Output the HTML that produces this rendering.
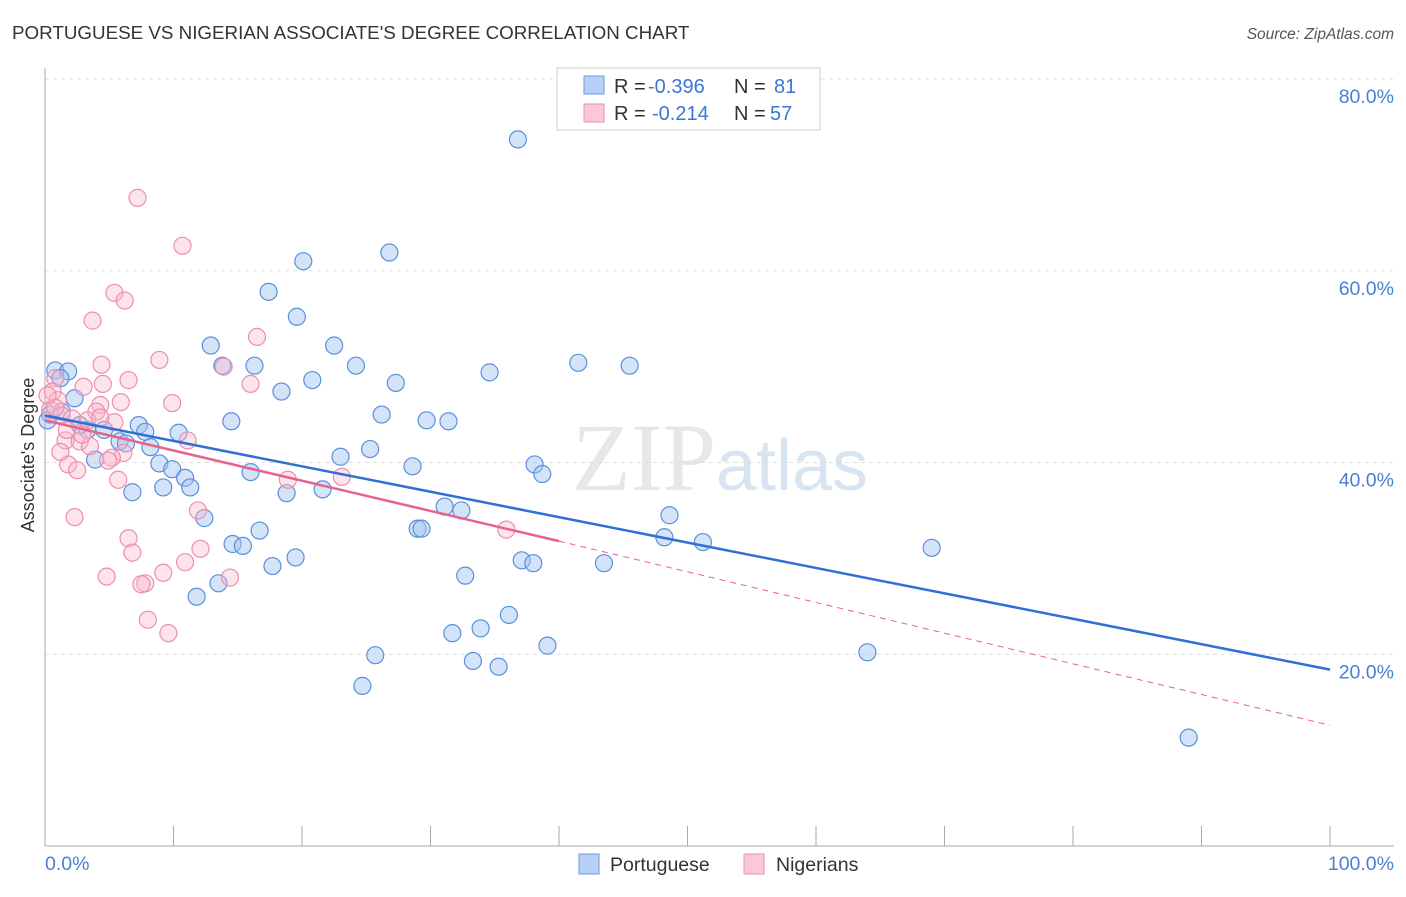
<!DOCTYPE html>
<html><head><meta charset="utf-8"><style>
body{margin:0;background:#fff;font-family:"Liberation Sans",sans-serif}
</style></head><body>
<svg width="1406" height="892" xmlns="http://www.w3.org/2000/svg" style="font-family:'Liberation Sans',sans-serif">
<text x="12" y="39" font-size="18.8" fill="#333">PORTUGUESE VS NIGERIAN ASSOCIATE'S DEGREE CORRELATION CHART</text>
<text x="1394" y="39" font-size="15.5" fill="#555" text-anchor="end" font-style="italic">Source: ZipAtlas.com</text>
<text x="720" y="490" font-size="96" fill="#ddd" text-anchor="middle" font-family="Liberation Serif" opacity="0.7">ZIP<tspan fill="#c9d9ef" font-family="Liberation Sans" font-size="72">atlas</tspan></text>
<g id="grid"></g>
<g id="axes"></g>
<g id="pts"></g>
<g id="lines"></g>
<text transform="translate(34,455) rotate(-90)" font-size="18" fill="#333" text-anchor="middle">Associate's Degree</text>
<text x="45" y="870" font-size="19.5" fill="#4a7fd4">0.0%</text>
<text x="1394" y="870" font-size="19.5" fill="#4a7fd4" text-anchor="end">100.0%</text>
<g>
<rect x="557" y="68" width="263" height="62" fill="#fff" stroke="#ccc"/>
<rect x="584" y="76" width="20" height="18" fill="#b8d0f5" stroke="#6a9ae0"/>
<rect x="584" y="104" width="20" height="18" fill="#fbc8d8" stroke="#ec8fad"/>
<text x="614" y="93" font-size="20" fill="#333">R =</text>
<text x="648" y="93" font-size="20" fill="#3b76d6">-0.396</text>
<text x="734" y="93" font-size="20" fill="#333">N =</text>
<text x="774" y="93" font-size="20" fill="#3b76d6">81</text>
<text x="614" y="120" font-size="20" fill="#333">R =</text>
<text x="652" y="120" font-size="20" fill="#3b76d6">-0.214</text>
<text x="734" y="120" font-size="20" fill="#333">N =</text>
<text x="770" y="120" font-size="20" fill="#3b76d6">57</text>
</g>
<g>
<rect x="579" y="854" width="20" height="20" fill="#b8d0f5" stroke="#6a9ae0"/>
<text x="610" y="871" font-size="19.5" fill="#333">Portuguese</text>
<rect x="744" y="854" width="20" height="20" fill="#fbc8d8" stroke="#ec8fad"/>
<text x="776" y="871" font-size="19.5" fill="#333">Nigerians</text>
</g>
</svg>
<script>
const yTicks=[20,40,60,80];
const xTicks=[0,10,20,30,40,50,60,70,80,90,100];
const bluePx=[[518,139],[390,253],[303,261],[268,292],[297,317],[211,346],[334,346],[222,366],[254,366],[356,366],[578,363],[630,366],[490,372],[312,380],[396,383],[55,370],[68,371],[61,378],[282,392],[74,398],[382,415],[231,421],[427,420],[449,421],[139,425],[88,430],[145,432],[104,430],[178,433],[120,441],[126,443],[151,447],[370,449],[340,457],[412,466],[535,464],[95,460],[159,463],[172,469],[250,472],[542,474],[185,478],[190,487],[163,487],[133,492],[287,493],[322,489],[204,518],[444,507],[461,510],[670,515],[418,529],[422,529],[260,531],[232,544],[243,546],[664,537],[703,542],[295,557],[273,566],[522,560],[533,563],[604,563],[932,548],[465,576],[219,583],[196,597],[509,615],[481,628],[452,633],[548,646],[375,655],[868,652],[473,661],[498,667],[362,686],[1189,738],[50,415],[48,420],[62,412],[80,425]];
const pinkPx=[[137,198],[182,246],[115,293],[125,300],[93,321],[257,337],[159,360],[102,365],[224,367],[55,378],[128,380],[83,387],[103,384],[251,384],[53,392],[121,402],[172,403],[100,405],[96,412],[58,400],[50,410],[62,416],[72,418],[87,420],[65,440],[80,441],[187,440],[123,453],[112,458],[108,461],[68,464],[77,470],[288,480],[342,477],[118,480],[198,510],[74,517],[506,530],[129,538],[132,553],[200,549],[185,562],[107,577],[163,573],[230,578],[145,583],[141,584],[148,620],[169,633],[55,408],[47,395],[67,430],[90,446],[60,452],[115,422],[100,417],[82,435]];
const portX=bluePx.map(p=>+((p[0]-45)/12.85).toFixed(1));
const portY=bluePx.map(p=>+((846-p[1])/9.5875).toFixed(1));
const nigX=pinkPx.map(p=>+((p[0]-45)/12.85).toFixed(1));
const nigY=pinkPx.map(p=>+((846-p[1])/9.5875).toFixed(1));
const blueTrend=[[0,44.9],[100,18.4]];
const pinkTrend=[[0,44.4],[40,31.8],[100,12.6]];
const X=v=>45+v*12.85, Y=v=>846-v*9.5875;
const NS='http://www.w3.org/2000/svg';
function mk(t,a,p){const e=document.createElementNS(NS,t);for(const k in a)e.setAttribute(k,a[k]);document.getElementById(p).appendChild(e);return e;}
for(const t of yTicks){
 const l=mk('line',{x1:45,x2:1394,y1:Y(t),y2:Y(t),stroke:'#ddd','stroke-dasharray':'4,4'},'grid');
 
 
 const tx=mk('text',{x:1394,y:Y(t)+24,'font-size':19.5,fill:'#4a7fd4','text-anchor':'end'},'grid');tx.textContent=t.toFixed(1)+'%';
 
 
}
let ax=mk('line',{x1:45,x2:45,y1:68,y2:846,stroke:'#aaa'},'axes');


ax=mk('line',{x1:45,x2:1394,y1:846,y2:846,stroke:'#aaa'},'axes');


for(const t of xTicks){const k=mk('line',{x1:X(t),x2:X(t),y1:826,y2:846,stroke:'#aaa'},'axes');
 
 }
portX.forEach((x,i)=>{const c=mk('circle',{cx:X(x),cy:Y(portY[i]),r:8.5,fill:'rgba(160,195,240,0.45)',stroke:'#5b8fdc','stroke-width':1.2},'pts');
 
 });
nigX.forEach((x,i)=>{const c=mk('circle',{cx:X(x),cy:Y(nigY[i]),r:8.5,fill:'rgba(250,185,205,0.4)',stroke:'#ec8fad','stroke-width':1.2},'pts');
 
 });
let tl=mk('line',{x1:X(blueTrend[0][0]),y1:Y(blueTrend[0][1]),x2:X(blueTrend[1][0]),y2:Y(blueTrend[1][1]),stroke:'#2f6fd6','stroke-width':2.5},'lines');


tl=mk('line',{x1:X(pinkTrend[0][0]),y1:Y(pinkTrend[0][1]),x2:X(pinkTrend[1][0]),y2:Y(pinkTrend[1][1]),stroke:'#e8628e','stroke-width':2.5},'lines');


tl=mk('line',{x1:X(pinkTrend[1][0]),y1:Y(pinkTrend[1][1]),x2:X(pinkTrend[2][0]),y2:Y(pinkTrend[2][1]),stroke:'#e8628e','stroke-width':1,'stroke-dasharray':'6,5'},'lines');


</script>
</body></html>
